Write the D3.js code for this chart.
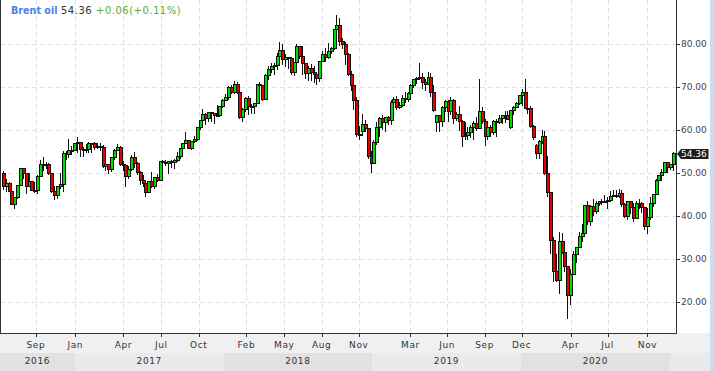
<!DOCTYPE html>
<html>
<head>
<meta charset="utf-8">
<script src="https://cdn.jsdelivr.net/npm/d3@7"></script>
<style>
body { margin: 0; background: #fff; }
svg { display: block; font-family: "DejaVu Sans", Verdana, sans-serif; }
</style>
</head>
<body>
<div></div>
<script>
// weekly Brent candles, [open, high, low, close], week ending Friday
var firstWeek = '2016-07-08';

var brent2016 = [
    [49.7,50.5,46.0,46.8],[46.8,48.5,45.6,47.6],[47.6,47.9,45.7,45.7],[45.7,45.8,42.4,42.5],
    [42.5,44.4,41.5,44.3],[44.3,47.0,43.9,47.0],[47.0,51.2,46.8,50.9],[50.9,51.2,48.5,49.9],
    [49.9,50.0,45.1,46.8],[46.8,49.9,46.6,48.0],[48.0,48.1,45.7,45.8],[45.8,47.8,45.2,45.9],
    [45.9,49.4,45.0,49.2],[49.2,52.9,49.2,51.9],[51.9,53.7,50.5,52.0],[52.0,52.5,50.8,51.8],
    [51.8,52.2,49.5,49.7],[49.7,49.9,45.2,45.6],[45.6,46.9,43.6,44.8],[44.8,47.0,43.8,46.9],
    [46.9,49.9,46.3,47.2],[47.2,55.0,45.5,54.5],[54.5,55.0,53.0,54.3],[54.3,57.9,53.5,55.2],
    [55.2,56.1,54.0,55.2],[55.2,57.0,55.0,56.8]
];
var brent2017 = [
    [56.8,58.4,54.6,57.1],[57.1,57.2,53.6,55.5],[55.5,56.0,53.6,55.5],[55.5,56.7,54.6,55.5],
    [55.5,57.2,54.6,56.8],[56.8,57.0,54.6,56.7],[56.7,57.1,55.2,55.8],[55.8,57.0,55.5,56.0],
    [56.0,56.8,55.0,55.9],[55.9,56.5,51.0,51.4],[51.4,52.5,50.3,51.8],[51.8,52.0,49.7,50.8],
    [50.8,53.5,50.2,53.5],[53.5,55.5,53.0,55.2],[55.2,56.7,55.0,55.9],[55.9,56.2,51.6,52.0],
    [52.0,52.7,50.5,51.7],[51.7,51.9,46.6,49.1],[49.1,51.5,48.5,50.8],[50.8,54.0,50.5,53.6],
    [53.6,54.7,51.0,52.2],[52.2,52.5,49.5,50.0],[50.0,50.3,47.1,48.2],[48.2,49.5,46.6,47.4],
    [47.4,47.5,44.4,45.5],[45.5,48.0,45.2,47.9],[47.9,50.2,46.4,46.7],[46.7,49.0,46.2,48.9],
    [48.9,49.7,47.8,48.1],[48.1,52.6,48.0,52.5],[52.5,53.0,51.3,52.4],[52.4,53.0,51.6,52.1],
    [52.1,52.7,49.7,52.7],[52.7,52.9,51.0,52.4],[52.4,53.3,50.9,52.8],[52.8,54.9,52.5,53.8],
    [53.8,55.7,53.3,55.6],[55.6,56.9,55.2,56.9],[56.9,59.5,56.6,57.5],[57.5,57.7,55.4,55.6],
    [55.6,57.3,55.2,57.2],[57.2,58.5,57.0,57.8],[57.8,60.5,57.4,60.4],[60.4,62.2,60.0,62.1],
    [62.1,64.7,62.1,63.5],[63.5,63.8,61.1,62.7],[62.7,64.0,61.9,63.9],[63.9,64.0,61.8,63.7],
    [63.7,63.9,61.3,63.4],[63.4,65.8,62.9,63.2],[63.2,65.5,63.1,65.3],[65.3,67.1,65.0,66.9]
];
var brent2018 = [
    [66.9,68.3,66.6,67.6],[67.6,70.1,67.0,69.9],[69.9,70.4,68.3,68.6],[68.6,71.3,68.4,70.5],
    [70.5,71.0,68.2,68.6],[68.6,68.6,62.6,62.8],[62.8,65.1,61.8,64.8],[64.8,67.6,64.0,67.3],
    [67.3,67.8,63.5,65.5],[65.5,66.0,63.6,65.5],[65.5,66.3,63.6,66.2],[66.2,70.6,65.9,70.5],
    [70.5,71.0,68.7,70.3],[70.3,70.3,66.6,67.1],[67.1,73.0,67.0,72.6],[72.6,74.8,71.5,74.1],
    [74.1,75.5,73.1,74.6],[74.6,75.5,72.8,74.9],[74.9,77.8,73.8,77.1],[77.1,80.5,77.0,78.5],
    [78.5,80.0,75.0,76.4],[76.4,77.5,74.5,76.8],[76.8,77.0,74.0,76.5],[76.5,77.0,72.7,73.4],
    [73.4,75.5,72.5,75.6],[75.6,80.0,74.8,79.4],[79.4,79.5,76.5,77.1],[77.1,79.4,72.7,75.3],
    [75.3,75.5,71.9,73.1],[73.1,74.8,71.4,74.3],[74.3,75.3,71.4,73.2],[73.2,74.9,70.8,72.8],
    [72.8,73.3,70.3,71.8],[71.8,75.9,71.2,75.8],[75.8,78.2,75.7,77.4],[77.4,79.0,75.8,76.8],
    [76.8,80.1,76.5,78.1],[78.1,79.3,77.6,78.8],[78.8,83.3,78.5,83.2],[83.2,86.7,83.1,84.2],
    [84.2,86.0,79.5,80.4],[80.4,81.4,78.8,79.8],[79.8,80.5,75.1,77.6],[77.6,77.9,72.6,72.8],
    [72.8,73.7,69.1,70.2],[70.2,70.7,64.6,66.8],[66.8,67.5,58.4,58.8],[58.8,60.8,57.5,58.7],
    [59.6,63.7,58.6,61.3],[61.3,62.3,59.4,60.3],[60.3,60.5,53.3,53.8],[53.8,55.0,50.0,52.2]
];
var brent2019 = [
    [52.2,57.5,52.0,57.1],[57.1,61.9,56.5,60.5],[60.5,62.9,58.4,62.7],[62.7,63.4,60.0,61.6],
    [61.6,62.9,59.5,62.8],[62.8,63.3,61.0,62.1],[62.1,66.8,61.1,66.3],[66.3,67.7,65.8,67.1],
    [67.1,67.8,64.5,65.1],[65.1,66.4,64.9,65.7],[65.7,68.0,65.2,67.2],[67.2,68.7,66.2,67.0],
    [67.0,68.7,66.5,68.4],[68.4,70.6,68.1,70.3],[70.3,71.7,69.8,71.6],[71.6,72.2,70.6,72.0],
    [72.0,75.6,71.5,72.2],[72.2,73.1,69.5,70.9],[70.9,71.9,68.9,70.6],[70.6,73.3,70.4,72.2],
    [72.2,73.1,67.6,68.7],[68.7,70.5,64.0,64.5],[61.6,63.5,59.5,63.3],[63.3,63.3,59.5,62.0],
    [62.0,65.6,60.6,65.2],[65.2,66.8,64.2,66.6],[66.6,66.9,61.9,64.2],[64.2,67.5,63.5,66.7],
    [66.7,67.2,61.3,62.5],[62.5,64.2,62.0,63.5],[63.5,65.6,59.8,61.9],[61.9,62.3,55.9,58.5],
    [58.5,61.8,57.5,58.6],[58.6,60.6,57.6,59.3],[59.3,61.1,58.0,60.4],[60.4,62.0,57.7,61.5],
    [61.5,63.0,59.6,60.2],[60.2,71.9,60.2,64.3],[64.3,65.2,61.3,61.9],[61.9,62.4,56.2,58.4],
    [58.4,60.9,57.6,60.5],[60.5,61.0,58.3,59.4],[59.4,62.2,58.7,62.0],[62.0,62.4,58.4,61.7],
    [61.7,63.5,61.3,62.5],[62.5,63.5,61.3,63.3],[63.3,64.4,61.6,63.4],[63.4,64.3,62.2,62.4],
    [60.6,64.5,60.1,64.4],[64.4,65.4,63.5,65.2],[65.2,66.4,65.0,66.1],[66.1,68.0,65.8,67.9]
];
var brent2020 = [
    [67.9,69.5,65.6,68.6],[68.6,71.8,64.9,65.0],[65.0,65.7,63.6,64.9],[64.9,65.6,60.3,60.7],
    [60.7,61.0,57.5,58.2],[56.4,56.7,53.1,54.5],[54.5,57.5,53.1,57.3],[57.3,60.0,56.6,58.5],
    [58.5,59.6,49.5,49.7],[49.7,53.8,44.3,45.3],[45.3,45.5,31.0,34.3],[34.3,35.0,24.5,27.0],
    [27.0,31.0,24.6,24.9],[24.9,36.3,21.7,34.1],[34.1,36.0,31.1,31.5],[31.5,33.5,26.9,28.1],
    [28.1,28.3,16.0,21.4],[21.4,27.5,19.2,26.4],[26.4,31.9,26.1,31.0],[31.0,32.6,29.0,32.5],
    [32.5,36.3,32.4,35.1],[35.1,38.1,33.8,35.9],[35.9,42.3,35.0,42.3],[42.3,43.4,37.9,38.7],
    [38.7,42.5,37.5,42.2],[42.2,43.9,40.0,41.0],[41.0,43.4,40.5,42.8],[42.8,43.5,42.2,43.2],
    [43.2,43.8,42.5,43.1],[43.1,44.7,43.0,43.3],[43.3,44.3,41.5,43.5],[43.5,45.8,43.3,44.4],
    [44.4,45.9,44.3,44.8],[44.8,46.0,44.2,44.4],[44.4,46.2,44.1,45.1],[45.1,46.0,42.0,42.7],
    [42.7,42.9,39.4,39.8],[39.8,43.4,39.0,43.2],[43.2,43.5,40.5,41.9],[41.9,42.9,38.5,39.3],
    [39.3,43.5,39.2,42.9],[42.9,43.8,41.6,42.9],[42.9,43.2,40.6,41.8],[41.8,42.0,36.6,37.5],
    [37.5,41.8,35.8,39.5],[39.5,44.4,39.0,42.8],[42.8,44.9,42.0,45.0],[45.0,48.6,45.0,48.2],
    [48.2,49.3,46.2,49.3],[49.3,50.9,48.1,50.0],[50.0,52.5,49.9,52.3],[52.3,52.5,49.9,51.3]
];
var brent2021 = [
    [51.3,52.0,50.6,51.8],[51.8,54.9,50.4,54.36]
];

var lastPrice = 54.36;
var change = 0.06;
var changePct = 0.11;

var priceTicks = [20, 30, 40, 50, 60, 70, 80];
var monthTickDates = ['2016-09-27', '2017-01-02', '2017-04-30', '2017-08-01', '2017-11-01',
    '2018-02-26', '2018-05-30', '2018-08-30', '2018-11-29', '2019-04-05', '2019-07-04',
    '2019-10-04', '2020-01-03', '2020-05-02', '2020-08-01', '2020-11-07'];
var monthTickLabels = ['Sep', 'Jan', 'Apr', 'Jul', 'Oct', 'Feb', 'May', 'Aug', 'Nov',
    'Mar', 'Jun', 'Sep', 'Dec', 'Apr', 'Jul', 'Nov'];
var years = [2016, 2017, 2018, 2019, 2020, 2021];

var width = 713;
var height = 371;
var plotW = 676;
var plotH = 333;

var parse = d3.utcParse('%Y-%m-%d');
var start = parse(firstWeek);

var rows = [].concat(brent2016, brent2017, brent2018, brent2019, brent2020, brent2021);
var data = rows.map(function (r, i) {
    return { date: d3.utcWeek.offset(start, i), open: r[0], high: r[1], low: r[2], close: r[3] };
});

var x = d3.scaleUtc()
    .domain([parse('2016-07-01'), parse('2021-01-16')])
    .range([0, plotW]);
var y = d3.scaleLinear()
    .domain([12.72, 90.16])
    .range([plotH, 0]);

var svg = d3.select('div')
    .append('svg').attr('width', width).attr('height', height);

svg.append('rect').attr('width', width).attr('height', height).attr('fill', '#fff');

// bottom bands
svg.append('rect')
    .attr('x', 0).attr('y', plotH).attr('width', 710).attr('height', 20)
    .attr('fill', '#f0f0f1');

var yearG = svg.append('g');
years.forEach(function (yr, i) {
    var x0 = Math.max(0, x(parse(yr + '-01-01')));
    var x1 = yr === 2021 ? 710 : x(parse((yr + 1) + '-01-01'));
    yearG.append('rect')
        .attr('x', Math.round(x0)).attr('y', plotH + 20)
        .attr('width', Math.round(x1) - Math.round(x0)).attr('height', height - plotH - 20)
        .attr('fill', i % 2 ? '#eaeaeb' : '#e1e1e2');
    // only years that close inside the plot get a label
    if (x1 <= plotW) {
        yearG.append('text')
            .attr('x', (x0 + x1) / 2).attr('y', 364)
            .attr('text-anchor', 'middle')
            .attr('font-size', 9).attr('fill', '#333')
            .attr('letter-spacing', 0.6)
            .text(yr);
    }
});

svg.append('rect')
    .attr('x', 710).attr('y', 0).attr('width', 3).attr('height', height)
    .attr('fill', '#c9ddf3');

// grid
var grid = svg.append('g').attr('shape-rendering', 'crispEdges')
    .attr('stroke', '#e2e2e2').attr('stroke-dasharray', '5,3');
grid.selectAll('.hg')
    .data(priceTicks)
    .enter()
    .append('line')
    .attr('x1', 0).attr('x2', plotW)
    .attr('y1', function (d) { return Math.round(y(d)) + 0.5; })
    .attr('y2', function (d) { return Math.round(y(d)) + 0.5; });
grid.selectAll('.vg')
    .data(monthTickDates)
    .enter()
    .append('line')
    .attr('y1', 0).attr('y2', plotH)
    .attr('x1', function (d) { return Math.round(x(parse(d))) + 0.5; })
    .attr('x2', function (d) { return Math.round(x(parse(d))) + 0.5; });

// candles
svg.append('clipPath').attr('id', 'plot')
    .append('rect').attr('x', 1).attr('y', 0).attr('width', plotW - 1).attr('height', plotH);

var candles = svg.append('g')
    .attr('clip-path', 'url(#plot)')
    .attr('shape-rendering', 'crispEdges')
    .selectAll('g')
    .data(data)
    .enter()
    .append('g');

candles.append('line')
    .attr('x1', function (d) { return Math.round(x(d.date)) + 0.5; })
    .attr('x2', function (d) { return Math.round(x(d.date)) + 0.5; })
    .attr('y1', function (d) { return y(d.high); })
    .attr('y2', function (d) { return y(d.low); })
    .attr('stroke', '#111');

candles.append('rect')
    .attr('x', function (d) { return Math.round(x(d.date)) - 0.5; })
    .attr('width', 3)
    .attr('y', function (d) { return y(Math.max(d.open, d.close)); })
    .attr('height', function (d) { return Math.max(1, Math.abs(y(d.open) - y(d.close))); })
    .attr('fill', function (d) { return d.close >= d.open ? '#00dc00' : '#e80000'; })
    .attr('stroke', '#111');

// frame
var frame = svg.append('g').attr('stroke', '#333').attr('shape-rendering', 'crispEdges');
frame.append('line').attr('x1', 0.5).attr('x2', 0.5).attr('y1', 0).attr('y2', plotH);
frame.append('line').attr('x1', 0).attr('x2', plotW + 1).attr('y1', plotH + 0.5).attr('y2', plotH + 0.5);
frame.append('line').attr('x1', plotW + 0.5).attr('x2', plotW + 0.5).attr('y1', 0).attr('y2', plotH);

// right axis
var yAxis = svg.append('g');
yAxis.selectAll('line')
    .data(priceTicks)
    .enter()
    .append('line')
    .attr('x1', plotW).attr('x2', plotW + 4)
    .attr('y1', function (d) { return Math.round(y(d)) + 0.5; })
    .attr('y2', function (d) { return Math.round(y(d)) + 0.5; })
    .attr('stroke', '#333').attr('shape-rendering', 'crispEdges');
yAxis.selectAll('text')
    .data(priceTicks)
    .enter()
    .append('text')
    .attr('x', plotW + 5)
    .attr('y', function (d) { return y(d) + 3.5; })
    .attr('font-size', 9).attr('fill', '#444')
    .text(function (d) { return d3.format('.2f')(d); });

// bottom axis
var xAxis = svg.append('g');
xAxis.selectAll('line')
    .data(monthTickDates)
    .enter()
    .append('line')
    .attr('x1', function (d) { return Math.round(x(parse(d))) + 0.5; })
    .attr('x2', function (d) { return Math.round(x(parse(d))) + 0.5; })
    .attr('y1', plotH).attr('y2', plotH + 4)
    .attr('stroke', '#333').attr('shape-rendering', 'crispEdges');
xAxis.selectAll('text')
    .data(monthTickDates)
    .enter()
    .append('text')
    .attr('x', function (d) { return x(parse(d)); })
    .attr('y', 347.5)
    .attr('text-anchor', 'middle')
    .attr('font-size', 9).attr('fill', '#333')
    .attr('letter-spacing', 0.6)
    .text(function (d, i) { return monthTickLabels[i]; });

// last price tag
var py = y(lastPrice);
svg.append('path')
    .attr('d', 'M' + (plotW + 1) + ',' + py + 'L' + (plotW + 5) + ',' + (py - 5) + 'L708.5,' + (py - 5) +
        'L708.5,' + (py + 5) + 'L' + (plotW + 5) + ',' + (py + 5) + 'Z')
    .attr('fill', '#1e1e1e');
svg.append('text')
    .attr('x', plotW + 5).attr('y', py + 3.5)
    .attr('font-size', 9).attr('fill', '#fff')
    .text(d3.format('.2f')(lastPrice));

// header
svg.append('text')
    .attr('x', 11).attr('y', 14)
    .attr('font-size', 9.6).attr('font-weight', 'bold').attr('fill', '#4b80e6')
    .text('Brent oil');
svg.append('text')
    .attr('x', 61).attr('y', 14)
    .attr('font-size', 10).attr('fill', '#333').attr('letter-spacing', 0.5)
    .text(d3.format('.2f')(lastPrice));
svg.append('text')
    .attr('x', 96).attr('y', 14)
    .attr('font-size', 10).attr('fill', '#5aae2e').attr('letter-spacing', 0.5)
    .text('+' + d3.format('.2f')(change) + '(+' + d3.format('.2f')(changePct) + '%)');
</script>
</body>
</html>
